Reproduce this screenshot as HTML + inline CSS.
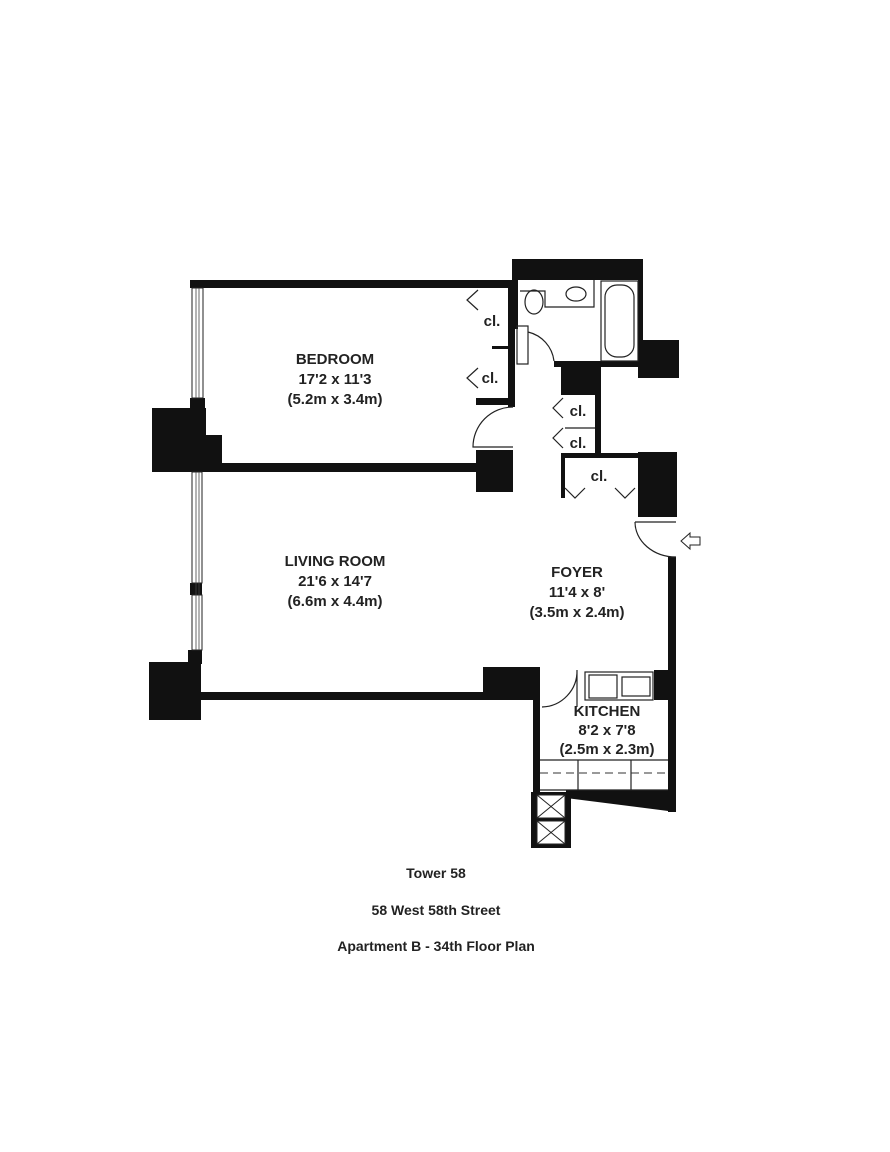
<!DOCTYPE html>
<html><head><meta charset="utf-8"><style>
html,body{margin:0;padding:0;background:#fff;}
svg{display:block}
text{font-family:"Liberation Sans",Arial,sans-serif;font-weight:bold;fill:#222;text-anchor:middle}
</style></head><body>
<svg width="890" height="1152" viewBox="0 0 890 1152" xmlns="http://www.w3.org/2000/svg">
<g fill="#111" stroke="none">
<rect x="190" y="280" width="323" height="8"/>
<rect x="512" y="259" width="131" height="21"/>
<rect x="512" y="259" width="6" height="70"/>
<rect x="508" y="280" width="7" height="127"/>
<rect x="476" y="398" width="37" height="7"/>
<rect x="492" y="346" width="16" height="3"/>
<rect x="638" y="259" width="5" height="82"/>
<rect x="638" y="340" width="41" height="38"/>
<rect x="554" y="361" width="86" height="6"/>
<rect x="561" y="363" width="40" height="32"/>
<rect x="595" y="378" width="6" height="76"/>
<rect x="561" y="453" width="79" height="5"/>
<rect x="561" y="453" width="4" height="45"/>
<rect x="638" y="452" width="39" height="65"/>
<rect x="152" y="408" width="54" height="64"/>
<rect x="205" y="435" width="17" height="28"/>
<rect x="190" y="398" width="15" height="12"/>
<rect x="206" y="463" width="273" height="9"/>
<rect x="476" y="450" width="37" height="42"/>
<rect x="190" y="583" width="12" height="12"/>
<rect x="149" y="662" width="52" height="58"/>
<rect x="188" y="650" width="14" height="14"/>
<rect x="201" y="692" width="282" height="8"/>
<rect x="483" y="667" width="57" height="33"/>
<rect x="533" y="667" width="7" height="180"/>
<rect x="668" y="557" width="8" height="255"/>
<rect x="654" y="670" width="20" height="30"/>
<polygon points="566,790 676,790 676,812 566,798"/>
<rect x="531" y="792" width="40" height="56"/>
</g>
<g fill="#fff" stroke="#222" stroke-width="1">
<rect x="192" y="288" width="11" height="110"/>
<rect x="192" y="472" width="10" height="111"/>
<rect x="192" y="595" width="10" height="55"/>
</g>
<g stroke="#444" stroke-width="0.8">
<line x1="196" y1="288" x2="196" y2="398"/><line x1="199" y1="288" x2="199" y2="398"/>
<line x1="196" y1="472" x2="196" y2="650"/><line x1="199" y1="472" x2="199" y2="650"/>
</g>
<g fill="#fff" stroke="#222" stroke-width="1">
<rect x="537" y="795" width="28" height="23"/>
<rect x="537" y="821" width="28" height="23"/>
<line x1="537" y1="795" x2="565" y2="818"/><line x1="565" y1="795" x2="537" y2="818"/>
<line x1="537" y1="821" x2="565" y2="844"/><line x1="565" y1="821" x2="537" y2="844"/>
</g>
<g fill="none" stroke="#222" stroke-width="1.2">
<ellipse cx="534" cy="302" rx="9" ry="12"/>
<path d="M520 291 H545 V307 H594 V280"/>
<ellipse cx="576" cy="294" rx="10" ry="7"/>
<rect x="601" y="281" width="37" height="80"/>
<rect x="605" y="285" width="29" height="72" rx="12"/>
<rect x="517" y="326" width="11" height="38"/>
<path d="M528 332 A34 34 0 0 1 554 361"/>
<path d="M513 407 A40 40 0 0 0 473 447 H513"/>
<path d="M635 522 H676 M635 522 A41 35 0 0 0 676 557"/>
<path d="M542 707 A36 36 0 0 0 577 670 V707"/>
<path d="M478 290 L467 300 L478 310"/>
<path d="M478 368 L467 378 L478 388"/>
<path d="M563 398 L553 408 L563 418"/>
<path d="M563 428 L553 438 L563 448"/>
<path d="M565 488 L575 498 L585 488"/>
<path d="M615 488 L625 498 L635 488"/>
<line x1="565" y1="428" x2="595" y2="428"/>
<rect x="585" y="672" width="68" height="28"/>
<rect x="589" y="675" width="28" height="23"/>
<rect x="622" y="677" width="28" height="19"/>
<path d="M540 760 H668 M540 790 H668 M578 760 V790 M631 760 V790"/>
</g>
<path d="M540 773 H668" stroke="#333" stroke-width="1" stroke-dasharray="8,5" fill="none"/>
<polygon points="681,541 690,533 690,537 700,537 700,545 690,545 690,549" fill="#fff" stroke="#222" stroke-width="1"/>
<g font-size="15">
<text x="335" y="364">BEDROOM</text>
<text x="335" y="384">17'2 x 11'3</text>
<text x="335" y="404">(5.2m x 3.4m)</text>
<text x="335" y="566">LIVING ROOM</text>
<text x="335" y="586">21'6 x 14'7</text>
<text x="335" y="606">(6.6m x 4.4m)</text>
<text x="577" y="577">FOYER</text>
<text x="577" y="597">11'4 x 8'</text>
<text x="577" y="617">(3.5m x 2.4m)</text>
<text x="607" y="716">KITCHEN</text>
<text x="607" y="735">8'2 x 7'8</text>
<text x="607" y="754">(2.5m x 2.3m)</text>
<text x="492" y="326">cl.</text>
<text x="490" y="383">cl.</text>
<text x="578" y="416">cl.</text>
<text x="578" y="448">cl.</text>
<text x="599" y="481">cl.</text>
</g>
<g font-size="14">
<text x="436" y="878">Tower 58</text>
<text x="436" y="915">58 West 58th Street</text>
<text x="436" y="951">Apartment B - 34th Floor Plan</text>
</g>
</svg>
</body></html>
